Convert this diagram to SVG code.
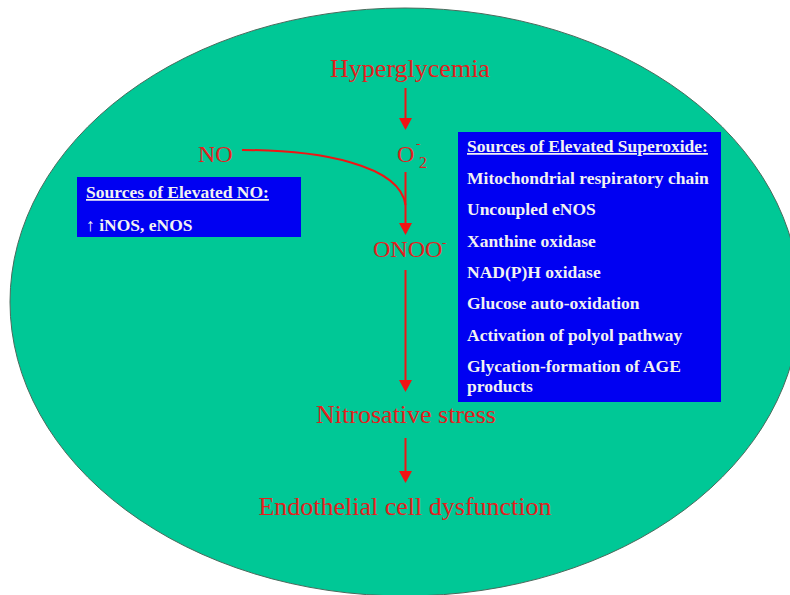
<svg xmlns="http://www.w3.org/2000/svg" width="790" height="595" viewBox="0 0 790 595">
<style>
.red{font-family:"Liberation Serif","Times New Roman",serif;fill:#E3201E;}
.box{fill:#0000F2;}
.bt{font-family:"Liberation Serif","Times New Roman",serif;font-weight:bold;font-size:17.5px;fill:#F2F2F2;}
.ul{text-decoration:underline;}
.ar{stroke:#F01414;stroke-width:2;fill:none;}
</style>
<defs>
<marker id="ah" markerUnits="userSpaceOnUse" markerWidth="14" markerHeight="14" refX="10" refY="6.5" orient="auto">
<path d="M0,0 L12,6.5 L0,13 z" fill="#F01414"/>
</marker>
</defs>
<rect width="790" height="595" fill="#FFFFFF"/>
<ellipse id="background" cx="405" cy="302" rx="395" ry="294" fill="#00C896" stroke="#4A6A5C" stroke-width="1"/>
<g id="connectors">
<path class="ar" d="M405.5,88 L405.5,128" marker-end="url(#ah)"/>
<path class="ar" d="M405.5,172 L405.5,233" marker-end="url(#ah)"/>
<path class="ar" d="M242,150 C320,150 400,165 405.5,205"/>
<path class="ar" d="M405.5,270 L405.5,390" marker-end="url(#ah)"/>
<path class="ar" d="M405.5,438 L405.5,481" marker-end="url(#ah)"/>
</g>
<g id="hyperglycemia"><text class="red" x="410" y="77" font-size="26" text-anchor="middle">Hyperglycemia</text></g>
<g id="superoxide">
<text class="red" x="397" y="162" font-size="24">O</text>
<text class="red" x="416" y="148" font-size="13">-</text>
<text class="red" x="419" y="168" font-size="16">2</text>
</g>
<g id="no"><text class="red" x="198" y="162" font-size="24">NO</text></g>
<g id="peroxynitrite">
<text class="red" x="373" y="257" font-size="24">ONOO</text>
<text class="red" x="442" y="247" font-size="13">-</text>
</g>
<g id="nitrosative"><text class="red" x="406" y="423" font-size="26" text-anchor="middle">Nitrosative stress</text></g>
<g id="endothelial"><text class="red" x="405" y="515" font-size="26" text-anchor="middle">Endothelial cell dysfunction</text></g>
<g id="no-sources">
<rect class="box" x="77" y="177" width="224" height="60"/>
<text class="bt ul" x="86" y="198">Sources of Elevated NO:</text>
<text class="bt" x="86" y="231">↑ iNOS, eNOS</text>
</g>
<g id="superoxide-sources">
<rect class="box" x="458" y="132" width="263" height="270"/>
<text class="bt ul" x="467" y="152">Sources of Elevated Superoxide:</text>
<text class="bt" x="467" y="184">Mitochondrial respiratory chain</text>
<text class="bt" x="467" y="215">Uncoupled eNOS</text>
<text class="bt" x="467" y="247">Xanthine oxidase</text>
<text class="bt" x="467" y="278">NAD(P)H oxidase</text>
<text class="bt" x="467" y="309">Glucose auto-oxidation</text>
<text class="bt" x="467" y="341">Activation of polyol pathway</text>
<text class="bt" x="467" y="372">Glycation-formation of AGE</text>
<text class="bt" x="467" y="392">products</text>
</g>
</svg>
